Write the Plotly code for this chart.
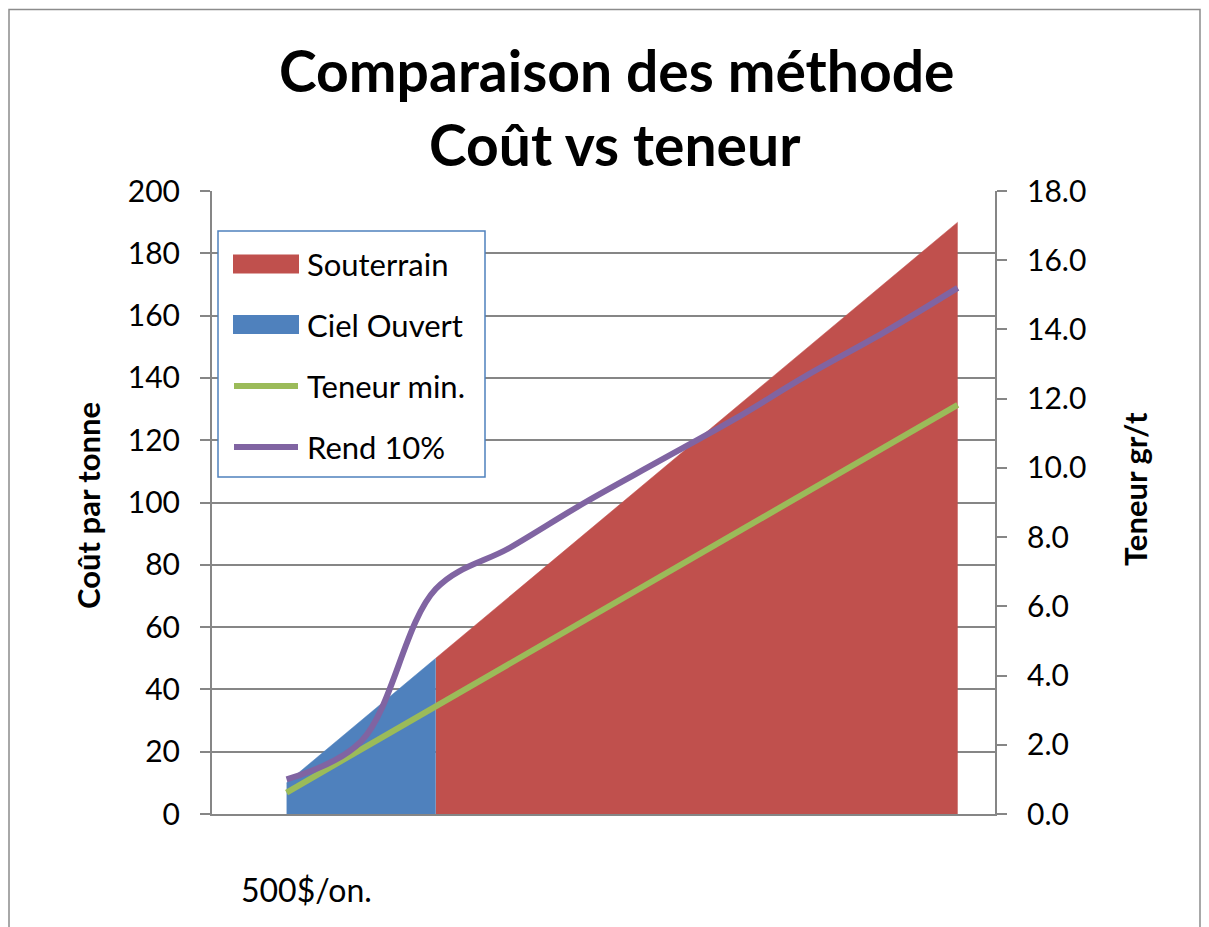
import plotly.graph_objects as go

# points along the cost scale (category positions, no labels shown)
points = [1, 2, 3, 4, 5, 6, 7, 8, 9, 10]

# cost per tonne ($/t) - left axis
souterrain = [None, None, 50, 70, 90, 110, 130, 150, 170, 190]
ciel_ouvert = [10, 30, 50, None, None, None, None, None, None, None]

# grade g/t - right axis
teneur_min = [0.62, 1.87, 3.11, 4.35, 5.60, 6.84, 8.09, 9.33, 10.57, 11.82]
rend_10 = [1.0, 2.1, 6.5, 7.7, 9.0, 10.2, 11.4, 12.7, 13.9, 15.2]

left_ticks = [0, 20, 40, 60, 80, 100, 120, 140, 160, 180, 200]
right_ticks = [0, 2, 4, 6, 8, 10, 12, 14, 16, 18]

RED = "#C0504D"
BLUE = "#4F81BD"
GREEN = "#9BBB59"
PURPLE = "#8064A2"
GRID = "#868686"
FONT = "Lato, 'Open Sans', sans-serif"

# the page body adds an 8px offset, so the figure is laid out 8px up/left
OFF = 8
W, H = 1209, 927
L, R, T, B = 212 - OFF, 214 + OFF, 191 - OFF, 113 + OFF
pw, ph = W - L - R, H - T - B


def px(x):
    # screen pixel -> paper x
    return (x - OFF - L) / pw


def py(y):
    # screen pixel -> paper y
    return (H - B - (y - OFF)) / ph


fig = go.Figure()

fig.add_trace(go.Scatter(x=points, y=souterrain, name="Souterrain", mode="lines",
                         line=dict(color=RED, width=0.5), fill="tozeroy", fillcolor=RED))
fig.add_trace(go.Scatter(x=points, y=ciel_ouvert, name="Ciel Ouvert", mode="lines",
                         line=dict(color=BLUE, width=0.5), fill="tozeroy", fillcolor=BLUE))
fig.add_trace(go.Scatter(x=points, y=teneur_min, name="Teneur min.", mode="lines", yaxis="y2",
                         line=dict(color=GREEN, width=6)))
fig.add_trace(go.Scatter(x=points, y=rend_10, name="Rend 10%", mode="lines", yaxis="y2",
                         line=dict(color=PURPLE, width=6, shape="spline", smoothing=1)))

shapes = []
annotations = []

# chart border (Excel chart area)
shapes.append(dict(type="rect", xref="paper", yref="paper",
                   x0=px(9), x1=px(1200), y0=py(9.5), y1=py(960),
                   line=dict(color="#8C8C8C", width=1.5), fillcolor="rgba(0,0,0,0)", layer="below"))

# manual legend, Excel style
shapes.append(dict(type="rect", xref="paper", yref="paper",
                   x0=px(218), x1=px(485), y0=py(477), y1=py(231),
                   line=dict(color="#4F81BD", width=1.5), fillcolor="white", layer="above"))
legend_items = [("Souterrain", RED, "box", 264),
                ("Ciel Ouvert", BLUE, "box", 324.5),
                ("Teneur min.", GREEN, "line", 386),
                ("Rend 10%", PURPLE, "line", 447)]
for label, color, kind, yc in legend_items:
    if kind == "box":
        shapes.append(dict(type="rect", xref="paper", yref="paper",
                           x0=px(233), x1=px(299), y0=py(yc + 9.5), y1=py(yc - 9.5),
                           line=dict(width=0), fillcolor=color, layer="above"))
    else:
        shapes.append(dict(type="line", xref="paper", yref="paper",
                           x0=px(234), x1=px(298), y0=py(yc), y1=py(yc),
                           line=dict(color=color, width=6), layer="above"))
    annotations.append(dict(text=label, xref="paper", yref="paper", x=px(305), y=py(yc),
                            xanchor="left", yanchor="middle", showarrow=False,
                            font=dict(family=FONT, size=31, color="black")))

# title
annotations.append(dict(text="<b>Comparaison des méthode</b>", xref="paper", yref="paper",
                        x=px(616), y=py(70), xanchor="center", yanchor="middle", showarrow=False,
                        font=dict(family=FONT, size=57, color="black")))
annotations.append(dict(text="<b>Coût vs teneur</b>", xref="paper", yref="paper",
                        x=px(615), y=py(144), xanchor="center", yanchor="middle", showarrow=False,
                        font=dict(family=FONT, size=57, color="black")))

# axis titles
annotations.append(dict(text="<b>Coût par tonne</b>", xref="paper", yref="paper",
                        x=px(88), y=py(505), textangle=-90, showarrow=False,
                        xanchor="center", yanchor="middle",
                        font=dict(family=FONT, size=31, color="black")))
annotations.append(dict(text="<b>Teneur gr/t</b>", xref="paper", yref="paper",
                        x=px(1135), y=py(489), textangle=-90, showarrow=False,
                        xanchor="center", yanchor="middle",
                        font=dict(family=FONT, size=31, color="black")))

# note under the chart
annotations.append(dict(text="500$/on.", xref="paper", yref="paper",
                        x=px(239), y=py(889), xanchor="left", yanchor="middle", showarrow=False,
                        font=dict(family=FONT, size=32, color="black")))

fig.update_layout(
    width=W, height=H,
    margin=dict(l=L, r=R, t=T, b=B),
    paper_bgcolor="white", plot_bgcolor="white",
    showlegend=False,
    font=dict(family=FONT, size=29, color="black"),
    xaxis=dict(range=[0, 10.5], showticklabels=False, ticks="", showgrid=False,
               zeroline=False, showline=True, linecolor=GRID, linewidth=2),
    yaxis=dict(range=[0, 200], tickvals=left_ticks, showgrid=True, gridcolor=GRID, gridwidth=1.5,
               zeroline=False, showline=True, linecolor=GRID, linewidth=2,
               ticks="outside", ticklen=10, tickwidth=1.5, tickcolor=GRID,
               ticklabelstandoff=14, tickfont=dict(family=FONT, size=30)),
    yaxis2=dict(range=[0, 18], tickvals=right_ticks, tickformat=".1f", overlaying="y", side="right",
                showgrid=False, zeroline=False, showline=True, linecolor=GRID, linewidth=2,
                ticks="outside", ticklen=10, tickwidth=1.5, tickcolor=GRID,
                ticklabelstandoff=14, tickfont=dict(family=FONT, size=30)),
    shapes=shapes,
    annotations=annotations,
)

fig.write_html("out.html")
